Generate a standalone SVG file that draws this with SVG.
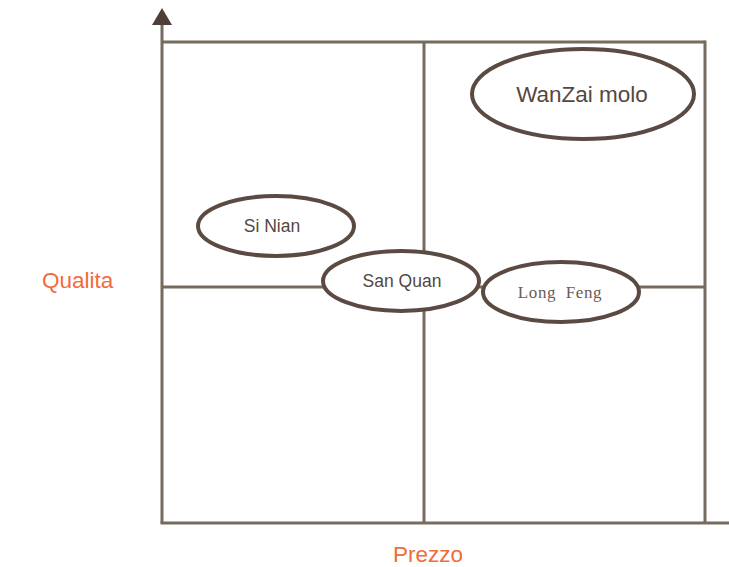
<svg xmlns="http://www.w3.org/2000/svg" width="729" height="567" viewBox="0 0 729 567">
<style>
.ax{stroke:#776b5f;stroke-width:3;fill:none}
.el{fill:#fff;stroke:#5a4a42;stroke-width:4}
.t{font-family:"Liberation Sans",Arial,sans-serif;fill:#55473f;text-anchor:middle;dominant-baseline:central}
.s{font-family:"Liberation Serif","Times New Roman",serif;fill:#6a5c54;text-anchor:middle;dominant-baseline:central}
.o{font-family:"Liberation Sans",Arial,sans-serif;fill:#f26b3a;font-size:22.5px}
</style>
<rect width="729" height="567" fill="#fff"/>
<g id="connectors">
<line class="ax" x1="162" y1="24" x2="162" y2="523"/>
<line class="ax" x1="160.5" y1="523" x2="729" y2="523"/>
<line class="ax" x1="162" y1="42" x2="705" y2="42"/>
<line class="ax" x1="705" y1="40.5" x2="705" y2="523"/>
<line class="ax" x1="424" y1="42" x2="424" y2="523"/>
<line class="ax" x1="162" y1="287" x2="705" y2="287"/>
<polygon points="162,8 152,25 172,25" fill="#4e3f38"/>
</g>
<g id="wanzai"><ellipse class="el" cx="583" cy="94" rx="111" ry="45"/><text class="t" x="582" y="94" font-size="22.5">WanZai molo</text></g>
<g id="sinian"><ellipse class="el" cx="276" cy="226" rx="78" ry="30"/><text class="t" x="272" y="226" font-size="17.5">Si Nian</text></g>
<g id="sanquan"><ellipse class="el" cx="401" cy="281" rx="78" ry="30"/><text class="t" x="402" y="281" font-size="17.5">San Quan</text></g>
<g id="longfeng"><ellipse class="el" cx="561" cy="292" rx="78" ry="30"/><text class="s" x="560" y="292" font-size="17" letter-spacing="0.6" xml:space="preserve">Long  Feng</text></g>
<g id="qualita"><text class="o" x="42" y="288">Qualita</text></g>
<g id="prezzo"><text class="o" x="393" y="562">Prezzo</text></g>
</svg>
